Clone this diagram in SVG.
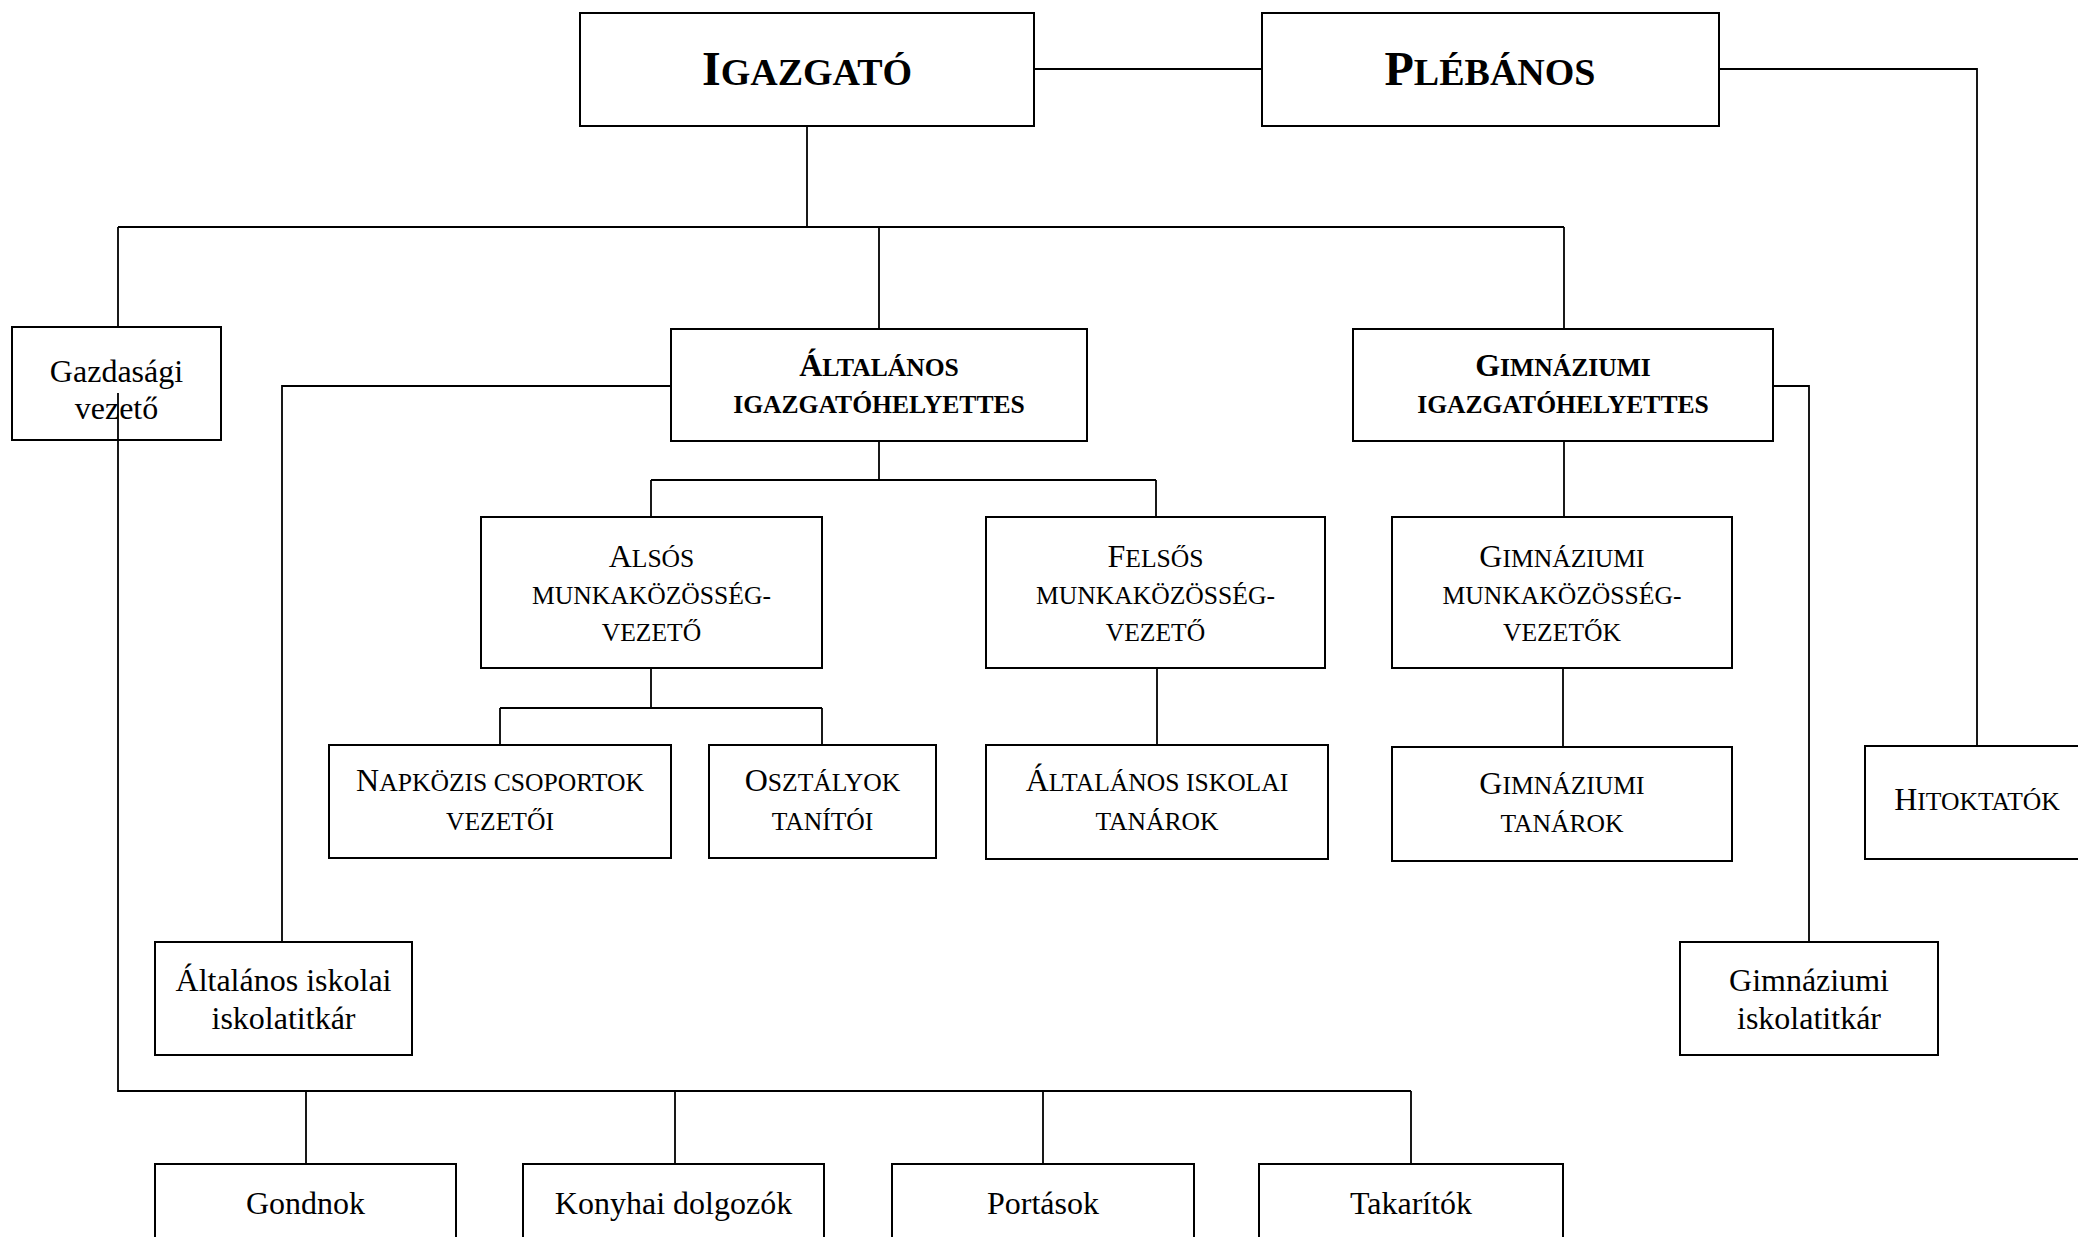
<svg xmlns="http://www.w3.org/2000/svg" width="2078" height="1237" viewBox="0 0 2078 1237">
<style>
.box{fill:#fff;stroke:#000;stroke-width:2}
.ln{fill:none;stroke:#000;stroke-width:1.8}
text{font-family:"Liberation Serif","Times New Roman",serif;fill:#000;text-anchor:middle}
.sc{font-size:25.6px}
.b{font-weight:bold}
.big{font-size:38px;font-weight:bold}
.n{font-size:32px}
</style>
<rect width="2078" height="1237" fill="#fff"/>
<g id="connectors">
<path class="ln" d="M1034 69H1262"/>
<path class="ln" d="M1719 69H1977V746"/>
<path class="ln" d="M807 126V227"/>
<path class="ln" d="M118 227H1564"/>
<path class="ln" d="M118 227V327"/>
<path class="ln" d="M879 227V329"/>
<path class="ln" d="M1564 227V329"/>
<path class="ln" d="M671 386H282V942"/>
<path class="ln" d="M879 441V480"/>
<path class="ln" d="M651 480H1156"/>
<path class="ln" d="M651 480V517"/>
<path class="ln" d="M1156 480V517"/>
<path class="ln" d="M651 668V708"/>
<path class="ln" d="M500 708H822"/>
<path class="ln" d="M500 708V745"/>
<path class="ln" d="M822 708V745"/>
<path class="ln" d="M1157 668V745"/>
<path class="ln" d="M1564 441V517"/>
<path class="ln" d="M1563 668V747"/>
<path class="ln" d="M1773 386H1809V942"/>
</g>
<g id="igazgato"><rect class="box" x="580" y="13" width="454" height="113"/><text class="big" x="807" y="85"><tspan font-size="48">I</tspan>GAZGATÓ</text></g>
<g id="plebanos"><rect class="box" x="1262" y="13" width="457" height="113"/><text class="big" x="1490" y="85"><tspan font-size="48">P</tspan>LÉBÁNOS</text></g>
<g id="gazdasagi"><rect class="box" x="12" y="327" width="209" height="113"/><text class="n" x="116.5" y="382">Gazdasági</text><text class="n" x="116.5" y="419">vezető</text></g>
<g id="altalanos-igh"><rect class="box" x="671" y="329" width="416" height="112"/><text class="sc b" x="879" y="376"><tspan font-size="32">Á</tspan>LTALÁNOS</text><text class="sc b" x="879" y="413">IGAZGATÓHELYETTES</text></g>
<g id="gimnaziumi-igh"><rect class="box" x="1353" y="329" width="420" height="112"/><text class="sc b" x="1563" y="376"><tspan font-size="32">G</tspan>IMNÁZIUMI</text><text class="sc b" x="1563" y="413">IGAZGATÓHELYETTES</text></g>
<g id="alsos"><rect class="box" x="481" y="517" width="341" height="151"/><text class="sc" x="651.5" y="567"><tspan font-size="32">A</tspan>LSÓS</text><text class="sc" x="651.5" y="604">MUNKAKÖZÖSSÉG-</text><text class="sc" x="651.5" y="641">VEZETŐ</text></g>
<g id="felsos"><rect class="box" x="986" y="517" width="339" height="151"/><text class="sc" x="1155.5" y="567"><tspan font-size="32">F</tspan>ELSŐS</text><text class="sc" x="1155.5" y="604">MUNKAKÖZÖSSÉG-</text><text class="sc" x="1155.5" y="641">VEZETŐ</text></g>
<g id="gimn-mk"><rect class="box" x="1392" y="517" width="340" height="151"/><text class="sc" x="1562" y="567"><tspan font-size="32">G</tspan>IMNÁZIUMI</text><text class="sc" x="1562" y="604">MUNKAKÖZÖSSÉG-</text><text class="sc" x="1562" y="641">VEZETŐK</text></g>
<g id="napkozis"><rect class="box" x="329" y="745" width="342" height="113"/><text class="sc" x="500" y="791"><tspan font-size="32">N</tspan>APKÖZIS CSOPORTOK</text><text class="sc" x="500" y="830">VEZETŐI</text></g>
<g id="osztalyok"><rect class="box" x="709" y="745" width="227" height="113"/><text class="sc" x="822.5" y="791"><tspan font-size="32">O</tspan>SZTÁLYOK</text><text class="sc" x="822.5" y="830">TANÍTÓI</text></g>
<g id="alt-tanarok"><rect class="box" x="986" y="745" width="342" height="114"/><text class="sc" x="1157" y="791"><tspan font-size="32">Á</tspan>LTALÁNOS ISKOLAI</text><text class="sc" x="1157" y="830">TANÁROK</text></g>
<g id="gimn-tanarok"><rect class="box" x="1392" y="747" width="340" height="114"/><text class="sc" x="1562" y="794"><tspan font-size="32">G</tspan>IMNÁZIUMI</text><text class="sc" x="1562" y="832">TANÁROK</text></g>
<g id="hitoktatok"><rect class="box" x="1865" y="746" width="225" height="113"/><text class="sc" x="1977" y="810"><tspan font-size="32">H</tspan>ITOKTATÓK</text></g>
<g id="alt-titkar"><rect class="box" x="155" y="942" width="257" height="113"/><text class="n" x="283.5" y="991">Általános iskolai</text><text class="n" x="283.5" y="1029">iskolatitkár</text></g>
<g id="gimn-titkar"><rect class="box" x="1680" y="942" width="258" height="113"/><text class="n" x="1809" y="991">Gimnáziumi</text><text class="n" x="1809" y="1029">iskolatitkár</text></g>
<path class="ln" d="M118 393V1091H1411M306 1091V1164M675 1091V1164M1043 1091V1164M1411 1091V1164"/>
<g id="gondnok"><rect class="box" x="155" y="1164" width="301" height="113"/><text class="n" x="305.5" y="1214">Gondnok</text></g>
<g id="konyhai"><rect class="box" x="523" y="1164" width="301" height="113"/><text class="n" x="673.5" y="1214">Konyhai dolgozók</text></g>
<g id="portasok"><rect class="box" x="892" y="1164" width="302" height="113"/><text class="n" x="1043" y="1214">Portások</text></g>
<g id="takaritok"><rect class="box" x="1259" y="1164" width="304" height="113"/><text class="n" x="1411" y="1214">Takarítók</text></g>
</svg>
